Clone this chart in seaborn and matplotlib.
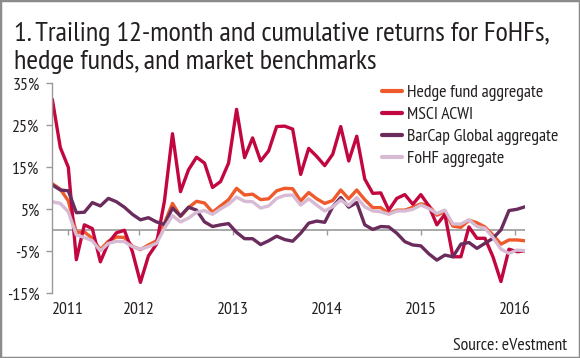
import pandas as pd
import seaborn as sns
import matplotlib.pyplot as plt
from matplotlib.patches import Rectangle

# ------------------------------------------------------------
# data (monthly, trailing 12-month returns, %)
# ------------------------------------------------------------

hedge_fund = [
    11.1, 9.8, 7.0, -0.5, -0.4, -1.9, -4.6, -2.6, -1.6, -1.7,
    -3.8, -4.6, -3.5, -2.5, 1.7, 6.4, 3.3, 5.4, 6.9, 6.5,
    4.3, 5.8, 7.3, 10.0, 8.4, 8.6, 7.3, 7.5, 9.4, 10.0,
    9.9, 7.0, 9.0, 7.5, 6.4, 7.1, 9.6, 7.5, 9.6, 7.3,
    5.4, 5.4, 4.0, 4.8, 4.8, 5.5, 6.3, 5.9, 3.6, 4.4,
    1.0, 0.7, 2.4, 1.8, 0.8, -1.1, -3.3, -2.3, -2.3, -2.5,
]

msci_acwi = [
    31.2, 19.7, 15.0, -7.0, 1.3, 0.4, -7.5, -3.0, -0.6, 0.0,
    -5.1, -12.4, -6.1, -3.3, 7.0, 23.0, 9.2, 14.4, 17.4, 16.0,
    10.2, 11.6, 16.0, 28.8, 17.3, 22.0, 16.5, 18.9, 24.7, 24.8,
    24.1, 13.3, 19.5, 17.6, 15.4, 18.1, 24.7, 16.5, 22.4, 12.2,
    8.8, 8.9, 4.8, 7.6, 8.5, 6.2, 8.5, 5.8, 1.3, 3.8,
    -6.3, -6.3, 0.8, -1.9, -1.9, -6.3, -12.2, -4.5, -5.1, -4.9,
]

barcap_global = [
    10.8, 9.6, 9.4, 4.2, 4.3, 6.6, 5.8, 7.6, 6.8, 5.5,
    3.8, 2.5, 3.0, 2.0, 1.4, 5.3, 3.4, 5.5, 4.8, 2.0,
    0.9, 1.3, 1.6, -0.5, -2.0, -2.0, -3.4, -2.5, -1.4, -2.2,
    -2.6, -0.7, 1.7, 2.2, 1.9, 5.6, 7.8, 5.5, 6.6, 1.3,
    0.2, 0.9, 0.8, -0.7, -2.7, -3.5, -3.7, -5.6, -7.1, -5.9,
    -6.3, -3.3, -2.9, -4.3, -3.1, -1.9, 0.1, 4.7, 5.0, 5.6,
]

fohf = [
    6.8, 6.4, 4.4, -1.1, -1.7, -2.5, -4.9, -3.1, -2.6, -2.7,
    -3.9, -4.5, -3.9, -3.1, 0.5, 3.5, 2.0, 2.9, 4.3, 4.7,
    3.8, 5.1, 6.2, 7.9, 6.9, 6.8, 5.3, 5.8, 7.6, 8.3,
    8.4, 6.0, 7.5, 6.0, 4.6, 5.6, 7.2, 5.9, 7.8, 5.6,
    4.6, 4.4, 3.8, 4.6, 4.6, 5.0, 6.0, 5.2, 4.0, 4.8,
    1.5, 1.5, 2.5, 0.9, 0.5, -1.7, -4.5, -5.5, -4.7, -4.9,
]

series_names = [
    "Hedge fund aggregate",
    "MSCI ACWI",
    "BarCap Global aggregate",
    "FoHF aggregate",
]

year_labels = ["2011", "2012", "2013", "2014", "2015", "2016"]
year_pos = [1.9, 10.8, 22.5, 34.3, 46.0, 57.8]

y_ticks = [-15, -5, 5, 15, 25, 35]

colors = {
    "Hedge fund aggregate": "#EF5A2C",
    "MSCI ACWI": "#C2063F",
    "BarCap Global aggregate": "#6A2C5D",
    "FoHF aggregate": "#D7BAD3",
}

# ------------------------------------------------------------
# long table for seaborn
# ------------------------------------------------------------

values = [hedge_fund, msci_acwi, barcap_global, fohf]

df = pd.concat(
    [
        pd.DataFrame({"month": range(len(v)), "ret": v, "series": name})
        for name, v in zip(series_names, values)
    ],
    ignore_index=True,
)

# ------------------------------------------------------------
# figure
# ------------------------------------------------------------

sns.set_style("white")
plt.rcParams["font.family"] = ["PT Sans Narrow", "DejaVu Sans"]

text_col = "#231F20"
grey = "#9a9a9a"
small = 12.8

fig = plt.figure(figsize=(5.8, 3.58), dpi=100)
ax = fig.add_axes([52.3 / 580, 1 - 293.3 / 358, (525 - 52.3) / 580, 210 / 358])

ax.axhline(0, color=grey, lw=1.2, zorder=1)
ax.vlines(year_pos, -1.0, 0, color=grey, lw=1.0, zorder=1)

sns.lineplot(
    data=df,
    x="month",
    y="ret",
    hue="series",
    hue_order=series_names,
    palette=colors,
    lw=2.4,
    ax=ax,
)

# draw order: lilac at the back, orange on top
for line, z in zip(ax.lines[-4:], [5, 4, 3, 2]):
    line.set_zorder(z)
    line.set_solid_joinstyle("round")

ax.set_xlim(0, 59)
ax.set_ylim(-15, 35)

ax.set_yticks(y_ticks)
ax.set_yticklabels([f"{t}%" for t in y_ticks])
ax.set_xticks(year_pos)
ax.set_xticklabels(year_labels)

ax.tick_params(axis="y", direction="out", length=4, width=1, color=grey,
               labelsize=small, labelcolor=text_col, pad=5, left=True)
ax.tick_params(axis="x", length=0, labelsize=small, labelcolor=text_col, pad=6)

for s in ["top", "right", "bottom"]:
    ax.spines[s].set_visible(False)
ax.spines["left"].set_color(grey)
ax.spines["left"].set_linewidth(1)

ax.set_xlabel("")
ax.set_ylabel("")

handles, labels = ax.get_legend_handles_labels()
ax.legend(
    handles,
    labels,
    loc="upper left",
    bbox_to_anchor=(382 / 580, 1 - 84.5 / 358),
    bbox_transform=fig.transFigure,
    frameon=False,
    fontsize=small,
    handlelength=1.12,
    handletextpad=0.28,
    labelspacing=0.31,
    borderpad=0,
    borderaxespad=0,
    labelcolor=text_col,
)
for lh in ax.get_legend().get_lines():
    lh.set_linewidth(3)

# ------------------------------------------------------------
# titles, source, frame
# ------------------------------------------------------------

fig.text(14 / 580, 1 - 41 / 358, "1. Trailing 12-month and cumulative returns for FoHFs,",
         fontsize=20.4, color=text_col, va="baseline", ha="left")
fig.text(14 / 580, 1 - 69 / 358, "hedge funds, and market benchmarks",
         fontsize=20.4, color=text_col, va="baseline", ha="left")

fig.text(567 / 580, 1 - 346 / 358, "Source: eVestment",
         fontsize=small, color=text_col, va="center", ha="right")

fig.patches.append(Rectangle((0, 0), 1, 1, transform=fig.transFigure,
                             fill=False, edgecolor="#8c8c8c", lw=2.5))

fig.savefig("out.png", dpi=100)
plt.close(fig)
